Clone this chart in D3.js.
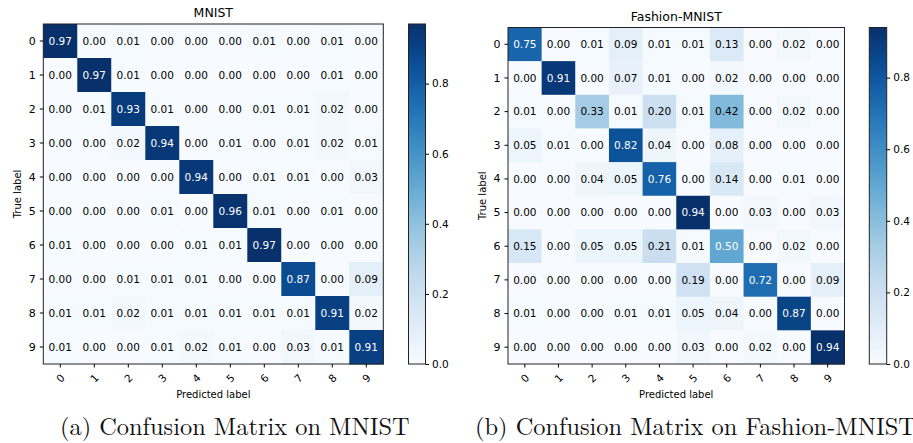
<!DOCTYPE html>
<html>
<head>
<meta charset="utf-8">
<script src="https://cdn.jsdelivr.net/npm/d3@7"></script>
<style>
  body { margin: 0; background: #fff; }
  svg { display: block; font-family: "DejaVu Sans", sans-serif; }
</style>
</head>
<body>
<svg id="chart" width="913" height="443"></svg>
<script>
// class labels 0..9
let classes = ["0", "1", "2", "3", "4", "5", "6", "7", "8", "9"];
let cbarTicks = [0, 0.2, 0.4, 0.6, 0.8];

// normalized confusion matrix, rows = true label
let mnist = [
  [0.97, 0.00, 0.01, 0.00, 0.00, 0.00, 0.01, 0.00, 0.01, 0.00],
  [0.00, 0.97, 0.01, 0.00, 0.00, 0.00, 0.00, 0.00, 0.01, 0.00],
  [0.00, 0.01, 0.93, 0.01, 0.00, 0.00, 0.01, 0.01, 0.02, 0.00],
  [0.00, 0.00, 0.02, 0.94, 0.00, 0.01, 0.00, 0.01, 0.02, 0.01],
  [0.00, 0.00, 0.00, 0.00, 0.94, 0.00, 0.01, 0.01, 0.00, 0.03],
  [0.00, 0.00, 0.00, 0.01, 0.00, 0.96, 0.01, 0.00, 0.01, 0.00],
  [0.01, 0.00, 0.00, 0.00, 0.01, 0.01, 0.97, 0.00, 0.00, 0.00],
  [0.00, 0.00, 0.01, 0.01, 0.01, 0.00, 0.00, 0.87, 0.00, 0.09],
  [0.01, 0.01, 0.02, 0.01, 0.01, 0.01, 0.01, 0.01, 0.91, 0.02],
  [0.01, 0.00, 0.00, 0.01, 0.02, 0.01, 0.00, 0.03, 0.01, 0.91]
];

let fashion = [
  [0.75, 0.00, 0.01, 0.09, 0.01, 0.01, 0.13, 0.00, 0.02, 0.00],
  [0.00, 0.91, 0.00, 0.07, 0.01, 0.00, 0.02, 0.00, 0.00, 0.00],
  [0.01, 0.00, 0.33, 0.01, 0.20, 0.01, 0.42, 0.00, 0.02, 0.00],
  [0.05, 0.01, 0.00, 0.82, 0.04, 0.00, 0.08, 0.00, 0.00, 0.00],
  [0.00, 0.00, 0.04, 0.05, 0.76, 0.00, 0.14, 0.00, 0.01, 0.00],
  [0.00, 0.00, 0.00, 0.00, 0.00, 0.94, 0.00, 0.03, 0.00, 0.03],
  [0.15, 0.00, 0.05, 0.05, 0.21, 0.01, 0.50, 0.00, 0.02, 0.00],
  [0.00, 0.00, 0.00, 0.00, 0.00, 0.19, 0.00, 0.72, 0.00, 0.09],
  [0.01, 0.00, 0.00, 0.01, 0.01, 0.05, 0.04, 0.00, 0.87, 0.00],
  [0.00, 0.00, 0.00, 0.00, 0.00, 0.03, 0.00, 0.02, 0.00, 0.94]
];

let svg = d3.select("#chart");
let capSize = 23;

drawPanel({
  id: "a", data: mnist, title: "MNIST",
  left: 43.3, top: 24, size: 340, titleY: 17,
  cbLeft: 408.5, cbWidth: 17,
  caption: "(a) Confusion Matrix on MNIST", capX: 60, capWidth: 350
});

drawPanel({
  id: "b", data: fashion, title: "Fashion-MNIST",
  left: 508, top: 27.5, size: 336.5, titleY: 21,
  cbLeft: 869.3, cbWidth: 17.4,
  caption: "(b) Confusion Matrix on Fashion-MNIST", capX: 475
});

function drawPanel(p) {
  let maxVal = d3.max(p.data, r => d3.max(r));
  let thresh = maxVal / 2;
  let color = d3.scaleSequential(d3.interpolateBlues).domain([0, maxVal]);

  let x = d3.scaleBand().domain(classes).range([p.left, p.left + p.size]);
  let y = d3.scaleBand().domain(classes).range([p.top, p.top + p.size]);

  let g = svg.append("g");

  let cells = [];
  p.data.forEach((row, i) => row.forEach((v, j) => cells.push({ r: classes[i], c: classes[j], v: v })));

  g.selectAll("rect.cell")
    .data(cells)
    .join("rect")
    .attr("class", "cell")
    .attr("x", d => x(d.c))
    .attr("y", d => y(d.r))
    .attr("width", x.bandwidth() + 0.5)
    .attr("height", y.bandwidth() + 0.5)
    .attr("fill", d => color(d.v));

  g.selectAll("text.val")
    .data(cells)
    .join("text")
    .attr("class", "val")
    .attr("x", d => x(d.c) + x.bandwidth() / 2)
    .attr("y", d => y(d.r) + y.bandwidth() / 2)
    .attr("dy", "0.35em")
    .attr("text-anchor", "middle")
    .attr("font-size", 10.5)
    .attr("fill", d => (d.v > thresh ? "#fff" : "#000"))
    .text(d => d.v.toFixed(2));

  // frame
  g.append("rect")
    .attr("x", p.left).attr("y", p.top)
    .attr("width", p.size).attr("height", p.size)
    .attr("fill", "none").attr("stroke", "#222").attr("stroke-width", 1);

  // axes
  let xAxis = g.append("g")
    .attr("transform", `translate(0,${p.top + p.size})`)
    .call(d3.axisBottom(x).tickSize(3.5).tickPadding(3));
  xAxis.select(".domain").remove();
  xAxis.selectAll("text")
    .attr("font-size", 10.5)
    .attr("font-family", "DejaVu Sans")
    .attr("fill", "#000")
    .attr("dy", null)
    .attr("y", null)
    .attr("text-anchor", "middle")
    .attr("transform", "translate(0,14) rotate(-45)")
    .attr("dominant-baseline", "central");

  let yAxis = g.append("g")
    .attr("transform", `translate(${p.left},0)`)
    .call(d3.axisLeft(y).tickSize(3.5).tickPadding(4));
  yAxis.select(".domain").remove();
  yAxis.selectAll("text")
    .attr("font-size", 11)
    .attr("font-family", "DejaVu Sans")
    .attr("fill", "#000");

  // labels
  g.append("text")
    .attr("x", p.left + p.size / 2)
    .attr("y", p.titleY)
    .attr("text-anchor", "middle")
    .attr("font-size", 12.5)
    .text(p.title);

  g.append("text")
    .attr("x", p.left + p.size / 2)
    .attr("y", 398)
    .attr("text-anchor", "middle")
    .attr("font-size", 10)
    .text("Predicted label");

  g.append("text")
    .attr("transform", `translate(${p.left - 22},${p.top + p.size / 2}) rotate(-90)`)
    .attr("text-anchor", "middle")
    .attr("font-size", 10)
    .text("True label");

  // colorbar
  let cbTop = p.top, cbBottom = p.top + p.size;
  let cy = d3.scaleLinear().domain([0, maxVal]).range([cbBottom, cbTop]);
  let grad = svg.append("defs").append("linearGradient")
    .attr("id", "grad-" + p.id)
    .attr("x1", 0).attr("y1", 1).attr("x2", 0).attr("y2", 0);
  d3.range(0, 1.0001, 0.05).forEach(t => {
    grad.append("stop")
      .attr("offset", t)
      .attr("stop-color", color(t * maxVal));
  });
  g.append("rect")
    .attr("x", p.cbLeft).attr("y", cbTop)
    .attr("width", p.cbWidth).attr("height", cbBottom - cbTop)
    .attr("fill", `url(#grad-${p.id})`)
    .attr("stroke", "#222").attr("stroke-width", 1);

  let cAxis = g.append("g")
    .attr("transform", `translate(${p.cbLeft + p.cbWidth},0)`)
    .call(d3.axisRight(cy).tickValues(cbarTicks).tickFormat(d3.format(".1f")).tickSize(3.5).tickPadding(3));
  cAxis.select(".domain").remove();
  cAxis.selectAll("text")
    .attr("font-size", 10.5)
    .attr("font-family", "DejaVu Sans")
    .attr("fill", "#000");

  // caption under subfigure; first caption sets the size to match the paper width
  let cap = svg.append("text")
    .attr("x", p.capX)
    .attr("y", 435)
    .attr("font-family", "'Latin Modern Roman', 'CMU Serif', 'Liberation Serif', serif")
    .attr("font-size", capSize)
    .attr("fill", "#111")
    .text(p.caption);
  if (p.capWidth) {
    capSize = capSize * p.capWidth / cap.node().getComputedTextLength();
    cap.attr("font-size", capSize);
  }
}
</script>
</body>
</html>
